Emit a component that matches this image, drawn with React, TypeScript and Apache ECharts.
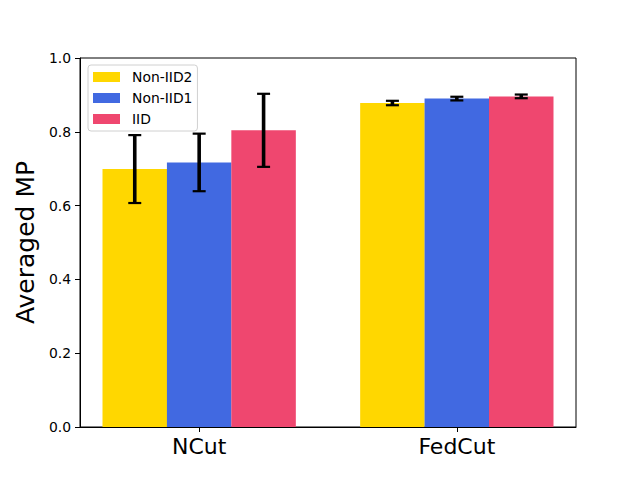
import React, { useEffect, useRef } from "react";
import * as echarts from "echarts";

const categories = ["NCut", "FedCut"];
const seriesNames = ["Non-IID2", "Non-IID1", "IID"];
const colors = ["#FFD700", "#4169E1", "#EF476F"];
const offsets = [-0.25, 0, 0.25];
const meansNonIID2 = [0.699, 0.878];
const meansNonIID1 = [0.717, 0.890];
const meansIID = [0.804, 0.896];
const errNonIID2 = [0.092, 0.006];
const errNonIID1 = [0.078, 0.005];
const errIID = [0.099, 0.005];
const yTicks = [0, 0.2, 0.4, 0.6, 0.8, 1.0];

const FONT = "DejaVu Sans";

export default function App() {
  const ref = useRef<HTMLDivElement>(null);
  useEffect(() => {
    if (!ref.current) return;
    const chart = echarts.init(ref.current, undefined, { renderer: "svg" });
    const means = [meansNonIID2, meansNonIID1, meansIID];
    const errs = [errNonIID2, errNonIID1, errIID];

    const barSeries = seriesNames.map((name, i) => ({
      type: "bar",
      name,
      barWidth: 64.5,
      barGap: "-100%",
      itemStyle: { color: colors[i] },
      data: categories.map((_, c) => [c + offsets[i], means[i][c]]),
      z: 2,
    }));

    const errData: number[][] = [];
    seriesNames.forEach((_, i) => {
      categories.forEach((_, c) => {
        errData.push([c + offsets[i], means[i][c], errs[i][c]]);
      });
    });

    const errSeries = {
      type: "custom",
      name: "err",
      z: 5,
      silent: true,
      data: errData,
      renderItem: (params: any, api: any) => {
        const x = api.value(0);
        const m = api.value(1);
        const e = api.value(2);
        const top = api.coord([x, m + e]);
        const bot = api.coord([x, m - e]);
        const hw = 6.5;
        const style = { stroke: "#000", lineWidth: 3.6 };
        const capStyle = { stroke: "#000", lineWidth: 2.2 };
        return {
          type: "group",
          children: [
            { type: "line", shape: { x1: top[0], y1: top[1], x2: bot[0], y2: bot[1] }, style },
            { type: "line", shape: { x1: top[0] - hw, y1: top[1], x2: top[0] + hw, y2: top[1] }, style: capStyle },
            { type: "line", shape: { x1: bot[0] - hw, y1: bot[1], x2: bot[0] + hw, y2: bot[1] }, style: capStyle },
          ],
        };
      },
    };

    chart.setOption({
      animation: false,
      backgroundColor: "#fff",
      textStyle: { fontFamily: FONT },
      grid: {
        left: 80,
        top: 58,
        width: 496,
        height: 369,
        show: true,
        borderColor: "#000",
        borderWidth: 1,
        backgroundColor: "transparent",
      },
      legend: {
        orient: "vertical",
        left: 88,
        top: 65,
        itemWidth: 27,
        itemHeight: 10,
        itemGap: 7,
        padding: [5, 5, 5, 5],
        borderColor: "#d0d0d0",
        borderWidth: 1,
        borderRadius: 3,
        backgroundColor: "rgba(255,255,255,0.8)",
        data: seriesNames.map((n) => ({ name: n, icon: "rect" })),
        textStyle: { fontFamily: FONT, fontSize: 13.9, color: "#000", padding: [0, 0, 0, 7] },
      },
      xAxis: {
        type: "value",
        min: -0.4625,
        max: 1.4625,
        splitLine: { show: false },
        axisLine: { show: true, onZero: false, lineStyle: { color: "#000", width: 1 } },
        axisTick: { show: true, customValues: [0, 1], length: 5, lineStyle: { color: "#000" } },
        axisLabel: {
          customValues: [0, 1],
          formatter: (v: number) => categories[Math.round(v)] ?? "",
          fontFamily: FONT,
          fontSize: 22,
          color: "#000",
          margin: 8,
        },
      },
      yAxis: {
        type: "value",
        min: 0,
        max: 1,
        interval: 0.2,
        name: "Averaged MP",
        nameLocation: "middle",
        nameGap: 36,
        nameTextStyle: { fontFamily: FONT, fontSize: 25, color: "#000" },
        splitLine: { show: false },
        axisLine: { show: true, onZero: false, lineStyle: { color: "#000", width: 1 } },
        axisTick: { show: true, length: 5, lineStyle: { color: "#000" } },
        axisLabel: {
          customValues: yTicks,
          formatter: (v: number) => v.toFixed(1),
          fontFamily: FONT,
          fontSize: 13.9,
          color: "#000",
          margin: 9,
        },
      },
      series: [...barSeries, errSeries],
    });
    return () => chart.dispose();
  }, []);
  return (
    <div
      ref={ref}
      style={{ position: "fixed", left: 0, top: 0, width: 640, height: 480 }}
    />
  );
}
